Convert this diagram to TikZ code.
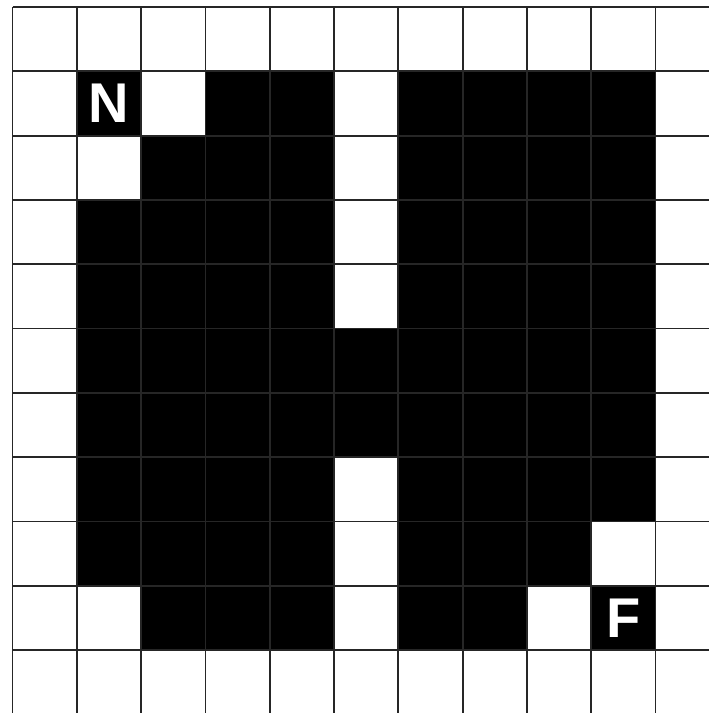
\documentclass[tikz,border=0pt]{standalone}
\usepackage{fontspec}
\setmainfont{Liberation Sans}
\begin{document}
\begin{tikzpicture}[x=1pt,y=-1pt,
  gridline/.style={draw=black!85,line width=1.8pt},
  cellfill/.style={fill=black},
  letter/.style={text=white,font=\fontsize{56}{56}\selectfont\bfseries,inner sep=0pt}]
\useasboundingbox (0,0) rectangle (709,713);
\fill[white] (0,0) rectangle (709,713);
\begin{scope}
\clip (0,0) rectangle (709,713);
\def\xo{12.5}\def\yo{7}\def\cs{64.3}
% black cells: row / list of columns
\foreach \r/\cols in {1/{1,3,4,6,7,8,9},2/{2,3,4,6,7,8,9},3/{1,2,3,4,6,7,8,9},4/{1,2,3,4,6,7,8,9},5/{1,2,3,4,5,6,7,8,9},6/{1,2,3,4,5,6,7,8,9},7/{1,2,3,4,6,7,8,9},8/{1,2,3,4,6,7,8},9/{2,3,4,6,7,9}}{
  \foreach \c in \cols {
    \fill[cellfill] (\xo+\c*\cs,\yo+\r*\cs) rectangle (\xo+\c*\cs+\cs,\yo+\r*\cs+\cs);
  }
}
\foreach \i in {0,...,11}{
  \draw[gridline] (\xo+\i*\cs,\yo) -- (\xo+\i*\cs,\yo+11*\cs);
  \draw[gridline] (\xo,\yo+\i*\cs) -- (\xo+11*\cs,\yo+\i*\cs);
}
\node[letter] (n) at (\xo+1.5*\cs,\yo+1.5*\cs) {N};
\node[letter] (f) at (\xo+9.5*\cs,\yo+9.5*\cs) {F};
\end{scope}
\end{tikzpicture}
\end{document}
